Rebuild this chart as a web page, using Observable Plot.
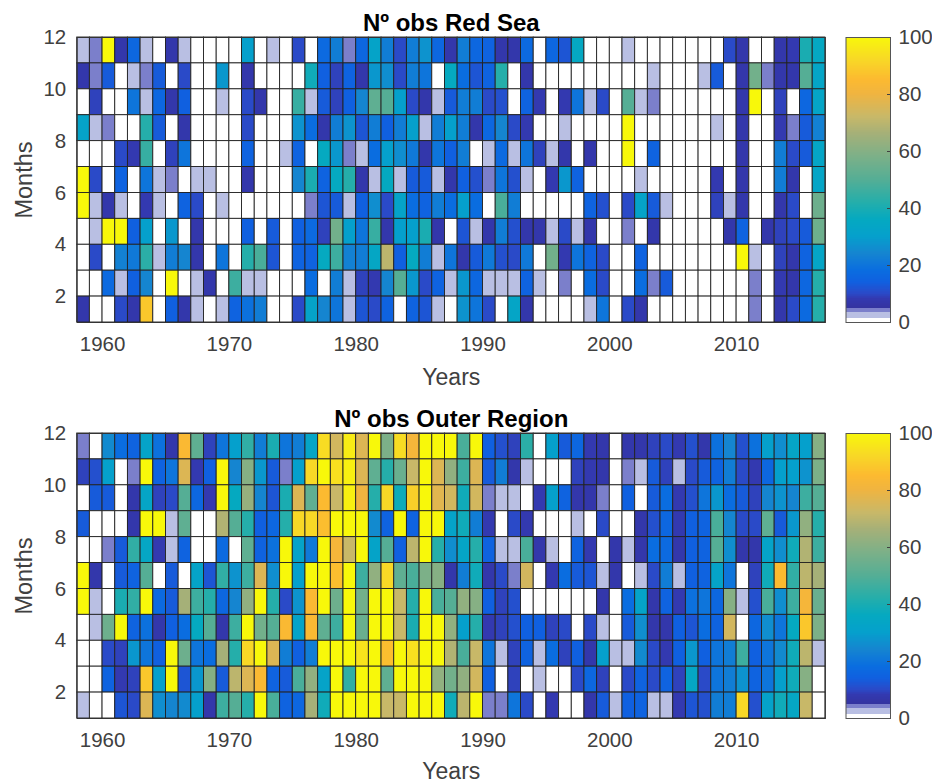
<!DOCTYPE html>
<html><head><meta charset="utf-8">
<script src="https://cdn.jsdelivr.net/npm/d3@7"></script>
<script src="https://cdn.jsdelivr.net/npm/@observablehq/plot@0.6"></script>
<style>
html,body{margin:0;padding:0;background:#fff;overflow:hidden}
.row{display:flex;width:932px}
svg{display:block}
</style></head><body><div id="app"></div>
<script>
const startYear = 1958;
const topMonth = 12;
const xTicks = [1960,1970,1980,1990,2000,2010];
const yTicks = [2,4,6,8,10,12];
const barTicks = [0,20,40,60,80,100];
const titles = ["Nº obs Red Sea","Nº obs Outer Region"];

// rows run from the 11–12 band at the top down to the 1–2 band; columns 1958…2016
const redSea = [
[2,4,100,7,16,2,0,7,2,0,0,0,0,30,0,2,0,10,0,17,22,4,16,32,22,10,22,27,16,7,22,16,15,7,7,17,0,16,12,35,0,0,0,2,0,0,0,0,0,0,0,10,7,0,0,7,8,40,35],
[7,4,13,0,2,4,13,0,10,0,0,28,0,7,0,0,0,0,38,14,9,15,7,28,26,10,22,20,0,36,18,12,15,42,0,7,0,0,0,0,0,0,0,0,0,2,0,0,0,2,13,0,7,56,4,7,7,50,33],
[0,9,0,0,20,2,16,7,14,0,0,2,0,10,7,0,0,45,2,13,9,14,24,52,50,30,10,7,2,13,22,22,10,11,0,15,8,0,8,20,2,10,0,50,2,4,0,0,0,0,0,0,7,100,0,9,0,16,33],
[32,2,4,0,0,42,13,0,7,0,0,0,0,10,0,0,0,27,18,7,22,27,12,22,14,22,30,2,22,30,22,7,16,24,10,8,0,0,2,0,0,0,0,100,0,0,0,0,0,0,2,0,7,0,0,8,4,13,23],
[0,0,0,10,8,45,0,9,20,0,0,0,0,15,0,0,2,15,0,36,28,4,2,18,30,26,21,7,20,14,22,0,2,17,2,20,9,2,7,0,7,0,0,100,0,15,0,0,0,0,0,0,7,0,0,22,10,13,33],
[100,10,0,15,0,20,2,4,0,2,2,0,0,7,0,0,0,24,40,15,36,42,7,2,36,2,13,13,2,7,14,11,4,20,11,2,0,8,28,15,0,0,0,0,2,0,0,0,0,0,8,0,7,0,0,22,7,0,33],
[100,2,7,2,0,8,2,0,15,10,0,2,0,0,0,0,0,0,4,12,13,2,14,26,10,32,18,15,22,18,30,18,0,48,22,0,0,0,0,0,15,11,0,10,32,13,2,0,0,0,9,2,7,0,0,7,10,0,55],
[0,2,100,100,14,30,0,28,0,7,0,0,0,14,0,13,0,14,17,9,56,30,20,45,7,30,30,40,7,0,12,2,7,22,11,7,7,2,10,2,7,0,0,4,0,7,0,0,0,0,0,7,15,0,7,9,10,13,55],
[0,10,0,23,21,43,2,22,24,7,0,20,0,42,48,12,0,15,15,36,46,23,22,34,70,14,36,22,2,20,7,13,21,11,10,21,0,56,8,20,15,10,0,0,15,0,0,0,0,0,0,0,100,2,0,9,7,15,33],
[0,0,17,2,14,24,0,100,0,2,7,0,46,2,2,0,0,0,18,0,22,2,9,8,24,50,28,10,15,2,28,16,2,2,2,15,2,0,4,0,18,10,0,0,18,4,13,0,0,0,0,0,0,4,0,8,7,16,42],
[7,0,0,10,7,88,0,14,7,2,0,2,15,19,22,0,0,10,32,24,20,2,12,10,15,0,15,12,2,0,27,20,10,0,33,7,0,0,0,0,2,20,0,10,7,0,0,0,0,0,0,0,0,4,0,7,10,17,42]
];
const outerRegion = [
[4,0,25,18,15,32,19,7,84,52,9,20,30,44,22,40,20,22,33,93,74,97,76,100,58,93,82,100,100,100,48,100,14,11,9,43,0,30,13,16,8,7,0,7,7,9,10,8,11,7,19,24,11,19,30,26,33,30,60],
[9,11,30,0,4,100,15,20,76,8,14,100,24,60,28,13,4,30,92,100,94,98,76,52,42,54,72,100,76,62,46,76,13,22,7,2,0,0,0,9,8,7,0,4,2,13,9,2,10,13,15,22,10,8,16,30,30,27,58],
[0,13,13,0,7,33,9,10,50,16,8,100,36,63,24,12,40,76,52,85,72,98,80,42,92,38,90,100,77,74,38,74,4,2,2,0,8,30,15,7,7,4,0,14,0,13,18,8,11,20,28,18,13,9,24,27,24,46,50],
[13,0,0,0,7,100,100,2,52,0,0,68,50,42,14,16,42,92,92,86,100,100,100,25,15,100,15,100,100,32,38,22,8,0,10,8,0,0,0,2,0,10,0,0,7,11,16,8,14,15,48,24,10,10,52,13,28,62,42],
[0,0,4,13,44,34,8,2,15,0,0,17,0,52,15,19,100,32,21,100,82,72,100,32,50,14,70,100,42,26,33,42,15,2,2,48,7,2,0,15,8,0,7,2,7,18,17,7,14,15,50,26,7,7,32,26,38,68,46],
[100,7,0,13,15,50,0,13,0,32,12,44,27,46,76,26,100,30,100,100,86,100,46,62,92,52,48,58,60,7,22,38,7,10,4,74,0,8,18,13,12,2,7,0,2,10,22,2,14,15,32,20,0,9,38,85,44,70,66],
[100,2,0,40,44,100,17,13,66,46,42,16,24,62,100,42,10,27,84,100,55,100,56,100,100,72,42,100,48,50,62,60,14,9,11,0,0,0,0,0,0,7,0,18,32,7,15,8,19,20,16,60,2,11,48,26,46,82,54],
[0,2,55,100,15,19,7,14,18,36,50,7,46,100,56,50,84,32,84,52,46,100,54,100,100,72,40,100,100,62,30,42,8,9,11,14,14,9,10,0,10,2,0,13,26,7,7,14,12,18,15,74,0,16,26,20,36,88,58],
[0,0,10,9,28,20,14,100,55,20,18,66,42,92,100,76,22,14,22,100,100,100,95,100,86,100,94,100,100,68,48,72,20,2,9,15,2,18,9,14,7,30,2,2,25,10,8,14,28,14,20,22,46,14,20,25,38,70,2],
[0,0,15,8,9,88,30,100,12,28,60,13,70,76,84,15,13,48,62,32,100,44,100,100,52,100,100,100,62,56,62,74,14,0,9,0,2,0,0,10,16,9,0,10,15,10,15,9,34,10,20,22,27,15,20,30,38,60,0],
[2,0,0,12,10,76,26,24,25,30,7,46,50,42,100,48,15,16,66,38,100,100,100,100,72,72,100,100,100,38,70,100,4,4,20,10,0,8,0,0,7,13,2,14,15,2,2,8,12,11,22,22,92,11,31,38,34,72,0]
];

// colour stops
const stopValues = [0,1.4,1.41,3.3,3.31,4.7,4.71,8,10,14,18,24,30,36,42,50,58,66,72,80,85,92,100];
const stopColors = ["#ffffff","#ffffff","#b9bfe3","#b9bfe3","#7b7fcb","#7b7fcb","#34339f","#3339b0","#2a4ac8","#1060e0","#0a6de0","#1585d0","#05a0cc","#05a9c0","#25aeaa","#55ae95","#7cb088","#a5b078","#c8b868","#f0b440","#fcba30","#f8d826","#f8f80a"];
const ramp = d3.range(0,100,0.25);

const color = {type:"linear",domain:stopValues,range:stopColors,clamp:true};
const font = "'Liberation Sans',Arial,sans-serif";
const ink = "#404040";

function heat(rows,title,height,marginBottom,yearsOffset){
  const cells = rows.flatMap((r,i)=>r.map((v,j)=>({year:startYear+j,month:topMonth-1-i,v})));
  return Plot.plot({
    width:835,height,marginLeft:76.7,marginRight:835-824.9,marginTop:37,marginBottom,
    style:{fontFamily:font,fontSize:"20px",color:ink,background:"#fff"},
    x:{domain:[1958,2017]},y:{domain:[1,12]},color,
    marks:[
      Plot.rect(cells,{x1:"year",x2:d=>d.year+1,y1:"month",y2:d=>d.month+1,fill:"v",stroke:"#222",strokeWidth:0.9,inset:0}),
      Plot.axisX({ticks:xTicks,tickFormat:d=>String(d),tickSize:0,tickPadding:14,fontSize:20.5,color:ink,label:null}),
      Plot.axisY({ticks:yTicks,tickSize:0,tickPadding:11,fontSize:20.5,color:ink,label:null}),
      Plot.axisX({ticks:[],label:"Years",labelAnchor:"center",labelArrow:"none",labelOffset:yearsOffset,fontSize:23,color:ink}),
      Plot.axisY({ticks:[],label:"Months",labelAnchor:"center",labelArrow:"none",labelOffset:62,fontSize:23.5,color:ink}),
      Plot.text([title],{frameAnchor:"top",lineAnchor:"bottom",dy:-6.5,fontWeight:"bold",fontSize:24,fill:"#000"}),
      Plot.frame({stroke:"#333",strokeWidth:1})
    ]
  });
}
function bar(height,marginBottom){
  return Plot.plot({
    width:97,height,marginLeft:10.5,marginRight:42,marginTop:37,marginBottom,
    style:{fontFamily:font,fontSize:"20px",color:ink,background:"#fff"},
    x:{domain:[0,1],axis:null},y:{domain:[0,100]},color,
    marks:[
      Plot.rect(ramp,{x1:0,x2:1,y1:d=>d,y2:d=>d+0.25,fill:d=>d,shapeRendering:"crispEdges"}),
      Plot.axisY({anchor:"right",ticks:barTicks,tickSize:-4,tickPadding:12,label:null,fontSize:20.5,color:ink}),
      Plot.frame({stroke:"#555",strokeWidth:1})
    ]
  });
}
const app = document.getElementById("app");
[[redSea,titles[0],396,74,62.5],[outerRegion,titles[1],388,66,60]].forEach(([rows,t,h,mb,yo])=>{
  const row = document.createElement("div"); row.className="row";
  row.append(heat(rows,t,h,mb,yo),bar(h,mb));
  app.append(row);
});
</script></body></html>
